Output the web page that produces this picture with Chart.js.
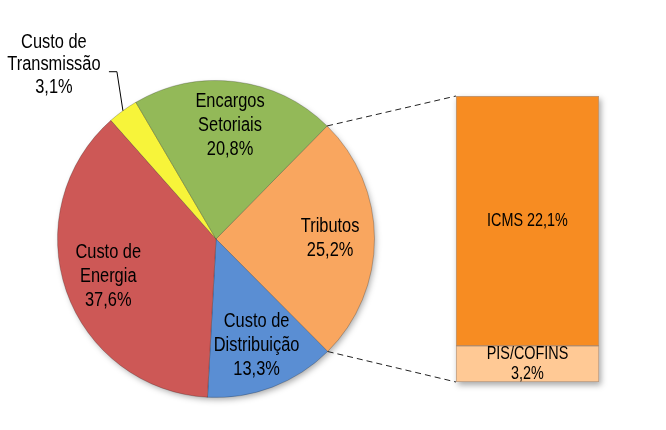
<!DOCTYPE html>
<html>
<head>
<meta charset="utf-8">
<script src="https://cdn.jsdelivr.net/npm/chart.js@4.4.0/dist/chart.umd.min.js"></script>
<style>
  html, body { margin: 0; padding: 0; background: #fff; }
  #wrap { position: relative; width: 666px; height: 430px; }
  #wrap canvas { position: absolute; left: 0; top: 0; }
</style>
</head>
<body>
<div id="wrap">
  <canvas id="pie" width="666" height="430"></canvas>
  <canvas id="bar" width="666" height="430"></canvas>
</div>
<script>
// pie slices, clockwise from the Tributos slice
const pieNames = [['Tributos'], ['Custo de', 'Distribuição'], ['Custo de', 'Energia'], ['Custo de', 'Transmissão'], ['Encargos', 'Setoriais']];
const pieValues = [25.2, 13.3, 37.6, 3.1, 20.8];
const pieColors = ['#F9A65F', '#5A8ED3', '#CD5856', '#F7F43A', '#93B958'];

// breakdown of Tributos, bottom to top
const barNames = ['PIS/COFINS', 'ICMS'];
const barValues = [3.2, 22.1];
const barColors = ['#FFC995', '#F78C22'];

const FONT = "'Liberation Sans', Arial, sans-serif";
const fmt = v => v.toFixed(1).replace('.', ',') + '%';

// narrow text: regular sans squeezed horizontally
function drawLines(ctx, lines, x, cy, lh, sx) {
  const y0 = cy - (lines.length - 1) * lh / 2;
  lines.forEach((t, i) => {
    ctx.save();
    ctx.translate(x, y0 + i * lh);
    ctx.scale(sx, 1);
    ctx.fillText(t, 0, 0);
    ctx.restore();
  });
}

const pieShadow = {
  id: 'pieShadow',
  beforeDatasetsDraw(chart) {
    const arc = chart.getDatasetMeta(0).data[0];
    const ctx = chart.ctx;
    ctx.save();
    ctx.shadowColor = 'rgba(0,0,0,0.35)';
    ctx.shadowBlur = 6;
    ctx.shadowOffsetX = 2;
    ctx.shadowOffsetY = 3;
    ctx.fillStyle = '#fff';
    ctx.beginPath();
    ctx.arc(arc.x, arc.y, arc.outerRadius - 1, 0, Math.PI * 2);
    ctx.fill();
    ctx.restore();
  }
};

const pieText = {
  id: 'pieText',
  afterDatasetsDraw(chart) {
    const ctx = chart.ctx;
    ctx.save();
    ctx.font = '20px ' + FONT;
    ctx.fillStyle = '#000';
    ctx.textAlign = 'center';
    ctx.textBaseline = 'middle';
    chart.getDatasetMeta(0).data.forEach((arc, i) => {
      const mid = (arc.startAngle + arc.endAngle) / 2;
      const lines = pieNames[i].concat(fmt(pieValues[i]));
      if (pieValues[i] < 5) {
        // small slice: label outside with a leader line
        const p0 = { x: arc.x + Math.cos(mid) * arc.outerRadius, y: arc.y + Math.sin(mid) * arc.outerRadius };
        const p1 = { x: p0.x - 6, y: p0.y - 39 };
        const p2 = { x: p1.x - 8, y: p1.y };
        ctx.strokeStyle = '#000';
        ctx.lineWidth = 1;
        ctx.beginPath();
        ctx.moveTo(p0.x, p0.y);
        ctx.lineTo(p1.x, p1.y);
        ctx.lineTo(p2.x, p2.y);
        ctx.stroke();
        drawLines(ctx, lines, p2.x - 55, p2.y - 7, 22.5, 0.82);
      } else {
        const r = arc.outerRadius * 0.72;
        drawLines(ctx, lines, arc.x + Math.cos(mid) * r, arc.y + Math.sin(mid) * r, 24, 0.82);
      }
    });
    ctx.restore();
  }
};

const pieChart = new Chart(document.getElementById('pie'), {
  type: 'pie',
  data: {
    labels: pieNames.map(n => n.join(' ')),
    datasets: [{
      data: pieValues,
      backgroundColor: pieColors,
      borderColor: 'rgba(0,0,0,0.22)',
      borderWidth: 1,
      hoverOffset: 0
    }]
  },
  options: {
    responsive: false,
    animation: false,
    rotation: 44.5,
    layout: { padding: { left: 57, top: 80, right: 291, bottom: 32 } },
    plugins: { legend: { display: false }, tooltip: { enabled: false } }
  },
  plugins: [pieShadow, pieText]
});

const barShadow = {
  id: 'barShadow',
  beforeDatasetsDraw(chart) {
    const a = chart.chartArea;
    const ctx = chart.ctx;
    ctx.save();
    ctx.shadowColor = 'rgba(0,0,0,0.35)';
    ctx.shadowBlur = 6;
    ctx.shadowOffsetX = 2;
    ctx.shadowOffsetY = 3;
    ctx.fillStyle = '#fff';
    ctx.fillRect(a.left, a.top, a.right - a.left, a.bottom - a.top);
    ctx.restore();
  }
};

const barText = {
  id: 'barText',
  afterDatasetsDraw(chart) {
    const ctx = chart.ctx;
    ctx.save();
    ctx.font = '18px ' + FONT;
    ctx.fillStyle = '#000';
    ctx.textAlign = 'center';
    ctx.textBaseline = 'middle';
    barNames.forEach((name, i) => {
      const bar = chart.getDatasetMeta(i).data[0];
      const cy = (bar.y + bar.base) / 2;
      const h = Math.abs(bar.base - bar.y);
      const lines = h > 100 ? [name + ' ' + fmt(barValues[i])] : [name, fmt(barValues[i])];
      drawLines(ctx, lines, bar.x, cy, 20, 0.8);
    });

    // dashed connectors from the Tributos slice to the bar
    const arc = pieChart.getDatasetMeta(0).data[0];
    const top = chart.getDatasetMeta(barNames.length - 1).data[0];
    const bottom = chart.getDatasetMeta(0).data[0];
    const left = top.x - top.width / 2;
    ctx.strokeStyle = '#222';
    ctx.lineWidth = 1;
    ctx.setLineDash([6, 4]);
    ctx.beginPath();
    ctx.moveTo(arc.x + Math.cos(arc.startAngle) * arc.outerRadius, arc.y + Math.sin(arc.startAngle) * arc.outerRadius);
    ctx.lineTo(left, top.y);
    ctx.moveTo(arc.x + Math.cos(arc.endAngle) * arc.outerRadius, arc.y + Math.sin(arc.endAngle) * arc.outerRadius);
    ctx.lineTo(left, bottom.base);
    ctx.stroke();
    ctx.restore();
  }
};

new Chart(document.getElementById('bar'), {
  type: 'bar',
  data: {
    labels: ['Tributos'],
    datasets: barNames.map((name, i) => ({
      label: name,
      data: [barValues[i]],
      backgroundColor: barColors[i],
      borderColor: 'rgba(120,70,30,0.55)',
      borderWidth: 1,
      borderSkipped: false,
      categoryPercentage: 1,
      barPercentage: 1
    }))
  },
  options: {
    responsive: false,
    animation: false,
    layout: { padding: { left: 456, top: 96, right: 67, bottom: 48 } },
    scales: {
      x: { display: false, stacked: true },
      y: { display: false, stacked: true, min: 0, max: barValues.reduce((a, b) => a + b, 0) }
    },
    plugins: { legend: { display: false }, tooltip: { enabled: false } }
  },
  plugins: [barShadow, barText]
});
</script>
</body>
</html>
